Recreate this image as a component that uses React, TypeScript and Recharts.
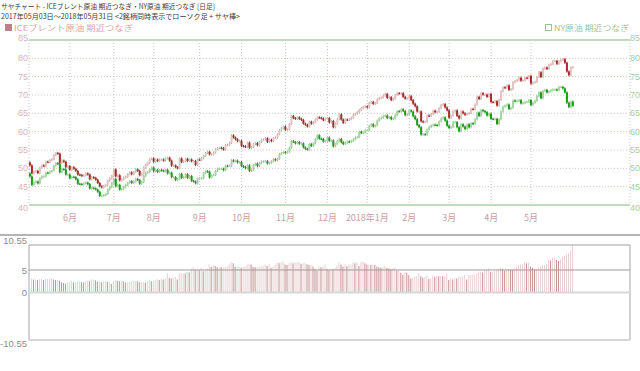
import React from "react";
import { ComposedChart, Bar, XAxis, YAxis, CartesianGrid, ReferenceLine, Cell } from "recharts";

// month ticks: index of the first trading day of each month
const monthLabels = ["6月", "7月", "8月", "9月", "10月", "11月", "12月", "2018年1月", "2月", "3月", "4月", "5月"];
const monthStarts = [20, 42, 62, 85, 106, 128, 149, 169, 190, 210, 231, 251];

const priceTicks = [40, 45, 50, 55, 60, 65, 70, 75, 80, 85];
const spreadTicks = [-10.55, 0, 5, 10.55];

const brentFirstOpen = 51.6;
const wtiFirstOpen = 48.6;

// ICEブレント原油 期近つなぎ, daily close 2017/05/03 - 2018/05/31
const brentClose = [
  // 2017-05
  50.8, 48.6, 49.1, 49.3, 48.7, 50.2, 50.8, 50.6, 51.8, 51.7, 52.2, 52.5, 53.6, 54.2, 54.0, 51.5, 52.1, 51.8, 50.3, 50.6,
  // 06
  49.6, 50.3, 49.9, 49.3, 48.3, 48.2, 47.9, 48.1, 48.6, 48.3, 47.0, 47.6, 47.4, 46.9, 46.0, 45.1, 44.8, 45.2, 45.5, 46.6, 47.3, 47.9,
  // 07
  49.7, 47.8, 48.1, 46.7, 47.0, 47.5, 47.7, 48.4, 48.9, 48.4, 49.0, 49.7, 49.3, 48.1, 48.6, 50.2, 51.0, 51.5, 52.5, 52.7,
  // 08
  51.8, 52.4, 52.0, 52.4, 52.4, 52.1, 52.7, 52.9, 52.1, 50.7, 50.8, 50.3, 50.0, 52.7, 51.7, 51.9, 52.6, 52.0, 52.4, 51.9, 52.0, 50.9, 52.4,
  // 09
  52.3, 52.8, 53.4, 54.2, 54.5, 53.8, 53.8, 54.3, 55.2, 55.5, 55.6, 55.5, 55.1, 56.3, 56.4, 56.9, 59.0, 58.4, 57.9, 57.4, 57.5,
  // 10
  56.1, 56.0, 55.8, 57.0, 55.6, 55.8, 56.6, 56.9, 56.3, 57.2, 57.8, 57.9, 58.2, 57.2, 57.8, 57.4, 58.3, 58.4, 59.3, 60.4, 60.9, 61.4,
  // 11
  60.5, 60.6, 62.1, 64.3, 63.7, 63.5, 63.9, 63.5, 63.2, 62.2, 61.9, 61.4, 62.7, 62.2, 62.6, 63.3, 63.9, 63.8, 63.6, 63.1, 63.6,
  // 12
  63.7, 62.5, 62.9, 61.2, 62.2, 63.4, 64.7, 63.3, 62.4, 63.3, 63.2, 63.4, 63.8, 64.6, 64.9, 65.3, 65.9, 66.4, 66.7, 66.9,
  // 2018-01
  66.6, 67.8, 68.1, 67.6, 67.8, 68.8, 69.2, 69.3, 69.9, 70.3, 69.2, 69.4, 68.6, 69.0, 70.0, 70.5, 70.4, 70.5, 69.5, 69.0, 69.1,
  // 02
  69.7, 68.6, 67.6, 66.9, 65.5, 65.5, 62.8, 62.6, 62.7, 64.4, 64.3, 64.8, 65.7, 65.3, 65.4, 66.4, 67.3, 67.5, 66.6, 65.8,
  // 03
  63.8, 64.4, 65.5, 65.8, 64.3, 63.6, 65.5, 65.0, 64.6, 64.9, 65.1, 66.2, 66.1, 67.4, 69.5, 68.9, 70.5, 70.1, 70.1, 69.5, 70.3,
  // 04
  68.1, 68.0, 68.3, 67.1, 68.7, 71.0, 72.1, 72.0, 72.6, 71.4, 71.6, 73.5, 73.8, 74.1, 74.7, 73.9, 74.0, 74.7, 74.6, 75.2,
  // 05
  73.1, 73.4, 73.6, 74.9, 76.2, 74.9, 77.2, 77.5, 77.1, 78.2, 78.4, 79.3, 79.3, 78.5, 79.2, 79.6, 79.8, 78.8, 76.4, 75.4, 77.5, 77.6,
];

// NY原油 期近つなぎ, daily close
const wtiClose = [
  // 2017-05
  47.8, 45.5, 46.2, 46.4, 45.9, 47.3, 47.8, 47.8, 48.8, 48.7, 49.1, 49.4, 50.7, 51.4, 51.2, 48.9, 49.8, 49.7, 48.3, 48.3,
  // 06
  47.3, 47.7, 47.6, 47.0, 45.8, 45.7, 45.6, 45.9, 46.1, 45.7, 44.5, 44.7, 44.5, 44.2, 43.6, 42.5, 42.5, 42.7, 43.0, 44.2, 44.9, 46.0,
  // 07
  47.1, 45.1, 45.5, 44.2, 44.4, 45.0, 45.5, 46.1, 46.5, 46.0, 46.4, 47.1, 46.8, 45.8, 46.3, 47.9, 48.8, 49.0, 49.7, 50.2,
  // 08
  49.2, 49.6, 49.0, 49.6, 49.4, 49.2, 49.6, 48.6, 48.8, 47.6, 47.6, 46.8, 47.1, 48.5, 47.4, 47.6, 48.4, 47.4, 47.9, 46.6, 46.4, 45.9, 47.2,
  // 09
  47.3, 47.3, 48.7, 49.2, 49.1, 47.5, 48.1, 48.2, 49.3, 49.9, 49.9, 49.9, 49.5, 50.7, 50.6, 50.7, 52.2, 51.9, 52.1, 51.6, 51.7,
  // 10
  50.6, 50.4, 50.0, 50.8, 49.3, 49.6, 50.9, 51.3, 50.6, 51.5, 51.9, 51.9, 52.0, 51.3, 51.5, 51.9, 52.5, 52.2, 52.6, 53.9, 54.2, 54.4,
  // 11
  54.3, 54.5, 55.6, 57.4, 57.2, 56.8, 57.2, 56.7, 56.8, 55.7, 55.3, 55.1, 56.6, 56.1, 56.8, 58.0, 59.0, 58.1, 58.0, 57.3, 57.4,
  // 12
  58.4, 57.5, 57.6, 56.0, 56.7, 57.4, 58.0, 57.1, 56.6, 57.0, 57.3, 57.2, 57.5, 57.9, 58.4, 58.5, 60.0, 59.6, 59.8, 60.4,
  // 2018-01
  60.4, 61.6, 62.0, 61.4, 61.7, 63.0, 63.6, 63.8, 64.3, 64.4, 63.7, 64.0, 63.4, 63.6, 64.5, 65.6, 65.5, 66.1, 65.6, 64.5, 64.7,
  // 02
  65.8, 65.5, 64.2, 63.4, 61.8, 61.2, 59.2, 59.3, 59.2, 60.6, 61.3, 61.7, 61.9, 61.8, 61.7, 62.8, 63.6, 63.9, 63.0, 61.6,
  // 03
  61.0, 61.3, 62.6, 62.6, 61.2, 60.1, 62.0, 61.4, 60.7, 62.0, 61.2, 62.3, 62.1, 63.4, 65.2, 64.3, 65.9, 65.6, 65.3, 64.4, 64.9,
  // 04
  63.5, 63.4, 63.5, 62.1, 63.4, 65.5, 66.8, 67.1, 67.4, 66.2, 66.5, 68.5, 68.3, 68.4, 68.6, 67.7, 67.8, 68.1, 68.1, 68.6,
  // 05
  67.3, 67.9, 68.4, 69.7, 70.7, 69.1, 71.1, 71.4, 70.7, 71.0, 71.3, 71.5, 71.5, 71.3, 72.2, 72.2, 71.8, 70.7, 67.9, 66.7, 68.2, 67.05,
];

const WICK = 0.3;

const rows = brentClose.map((bc, i) => {
  const bo = i === 0 ? brentFirstOpen : brentClose[i - 1];
  const wc = wtiClose[i];
  const wo = i === 0 ? wtiFirstOpen : wtiClose[i - 1];
  const bh = Math.max(bo, bc) + WICK;
  const bl = Math.min(bo, bc) - WICK;
  const wh = Math.max(wo, wc) + WICK;
  const wl = Math.min(wo, wc) - WICK;
  const spread = +(bc - wc).toFixed(2);
  const prev = i === 0 ? spread : +(brentClose[i - 1] - wtiClose[i - 1]).toFixed(2);
  return { i, bo, bc, bh, bl, wo, wc, wh, wl, range: [Math.min(bl, wl), Math.max(bh, wh)], spread, rising: spread >= prev };
});

const JP = "'Noto Sans CJK JP', sans-serif";
const NUM = "'Liberation Sans', Arial, sans-serif";

const CandlePair = (props: any) => {
  const { x, y, width, height, payload } = props;
  if (!payload) return null;
  const [lo, hi] = payload.range;
  const top = Math.min(y, y + height);
  const h = Math.abs(height);
  const ppu = hi > lo ? h / (hi - lo) : 0;
  const toY = (v: number) => top + (hi - v) * ppu;
  const cx = x + width / 2;
  const one = (o: number, c: number, hh: number, ll: number, upCol: string, downCol: string, wickUp: string) => {
    const up = c >= o;
    const col = up ? upCol : downCol;
    const by = toY(Math.max(o, c));
    const bh = Math.max(1, Math.abs(o - c) * ppu);
    return (
      <g>
        <line x1={cx} x2={cx} y1={toY(hh)} y2={toY(ll)} stroke={up ? wickUp : downCol} strokeWidth={1} />
        <rect x={cx - 1} y={by} width={2} height={bh} fill={col} />
      </g>
    );
  };
  return (
    <g>
      {one(payload.bo, payload.bc, payload.bh, payload.bl, "#e2c4c4", "#a82c2c", "#c89c9c")}
      {one(payload.wo, payload.wc, payload.wh, payload.wl, "#a8d4a4", "#1a9a1a", "#8cc48c")}
    </g>
  );
};

const PriceTick = (props: any) => {
  const { x, y, payload, side } = props;
  const v = payload.value;
  const dy = v === 85 ? -2.5 : v === 40 ? 3 : 0;
  return (
    <text x={x} y={y + dy} dy="0.35em" textAnchor={side === "left" ? "end" : "start"} fontSize={9} fontFamily={NUM} fill={side === "left" ? "#d8b4b8" : "#a8cca8"}>
      {v}
    </text>
  );
};

const SpreadTick = (props: any) => {
  const { x, y, payload } = props;
  const v = payload.value;
  const dy = v === 10.55 ? -4.5 : v === -10.55 ? 4 : v === 5 ? 1 : 0;
  return (
    <text x={x} y={y + dy} dy="0.35em" textAnchor="end" fontSize={9.5} fontFamily={NUM} fill="#8c8c8c">
      {v}
    </text>
  );
};

const monthName = (v: any) => monthLabels[monthStarts.indexOf(Number(v))] ?? "";

export default function App() {
  return (
    <div style={{ position: "absolute", left: 0, top: 0, width: 640, height: 371, background: "#fff", overflow: "hidden" }}>
      <svg width={640} height={40} style={{ position: "absolute", left: 0, top: 0 }}>
        <text x={1} y={8.5} fontSize={7} fontFamily={JP} fill="#3c3c3c" textLength={214} lengthAdjust="spacingAndGlyphs">
          サヤチャート - ICEブレント原油 期近つなぎ・NY原油 期近つなぎ [日足]
        </text>
        <text x={1} y={19} fontSize={7} fontFamily={JP} fill="#3c3c3c" textLength={239} lengthAdjust="spacingAndGlyphs">
          2017年05月03日～2018年05月31日 &lt;2銘柄同時表示でローソク足 + サヤ棒&gt;
        </text>
        <rect x={5} y={24} width={7} height={7} fill="#b88484" />
        <text x={14} y={30.5} fontSize={8} fontFamily={JP} fill="#d4a8a8" textLength={119} lengthAdjust="spacingAndGlyphs">
          ICEブレント原油 期近つなぎ
        </text>
        <rect x={545.5} y={24.5} width={6} height={6} fill="none" stroke="#9cc49c" strokeWidth={1} />
        <text x={629} y={30.5} fontSize={8} fontFamily={JP} fill="#9cc49c" textAnchor="end" textLength={75} lengthAdjust="spacingAndGlyphs">
          NY原油 期近つなぎ
        </text>
      </svg>

      <div style={{ position: "absolute", left: 0, top: 0 }}>
        <ComposedChart width={640} height={230} data={rows} margin={{ top: 40, right: 0, bottom: 5, left: 0 }}>
          <CartesianGrid yAxisId="left" vertical={false} stroke="#bcd0bc" strokeDasharray="1 2" />
          <CartesianGrid yAxisId="left" horizontal={false} stroke="#d8b8c0" strokeDasharray="1 2" />
          <XAxis
            dataKey="i"
            type="category"
            ticks={monthStarts}
            interval={0}
            tickFormatter={monthName}
            axisLine={false}
            tickLine={false}
            tickSize={0}
            tickMargin={10}
            height={20}
            padding={{ left: 0, right: 56 }}
            tick={{ fontSize: 9, fill: "#c8a0a4", fontFamily: JP }}
          />
          <YAxis
            yAxisId="left"
            domain={[40, 85]}
            ticks={priceTicks}
            interval={0}
            allowDataOverflow
            width={29}
            axisLine={false}
            tickLine={false}
            tickSize={0}
            tickMargin={1}
            tick={(p: any) => <PriceTick {...p} side="left" />}
          />
          <YAxis
            yAxisId="right"
            orientation="right"
            domain={[40, 85]}
            ticks={priceTicks}
            interval={0}
            allowDataOverflow
            width={10}
            axisLine={false}
            tickLine={false}
            tickSize={0}
            tickMargin={0}
            tick={(p: any) => <PriceTick {...p} side="right" />}
          />
          <ReferenceLine yAxisId="left" y={85} stroke="#c2dabe" strokeWidth={2} />
          <ReferenceLine yAxisId="left" y={40} stroke="#c2dabe" strokeWidth={2} />
          <Bar yAxisId="left" dataKey="range" barSize={2} shape={(p: any) => <CandlePair {...p} />} isAnimationActive={false} />
        </ComposedChart>
      </div>

      <div style={{ position: "absolute", left: 0, top: 234, width: 640, height: 2, background: "#b4b4b4" }} />

      <div style={{ position: "absolute", left: 0, top: 230 }}>
        <ComposedChart width={640} height={126} data={rows} margin={{ top: 15, right: 10, bottom: 15, left: 0 }}>
          <CartesianGrid horizontal={false} stroke="#a4a4a4" />
          <XAxis
            dataKey="i"
            type="category"
            ticks={monthStarts}
            interval={0}
            tick={false}
            axisLine={false}
            tickLine={false}
            height={1}
            padding={{ left: 0, right: 56 }}
          />
          <YAxis
            domain={[-10.55, 10.55]}
            ticks={spreadTicks}
            interval={0}
            allowDataOverflow
            width={29}
            axisLine={false}
            tickLine={false}
            tickSize={0}
            tickMargin={2}
            tick={(p: any) => <SpreadTick {...p} />}
          />
          <ReferenceLine y={-10.55} stroke="#d8d8d8" strokeWidth={2} />
          <ReferenceLine y={0} stroke="#d8d8d8" strokeWidth={2} />
          <ReferenceLine y={5} stroke="#a89898" strokeWidth={1} />
          <ReferenceLine y={10.55} stroke="#a0a0a0" strokeWidth={1.2} />
          <Bar dataKey="spread" barSize={1} isAnimationActive={false}>
            {rows.map((r) => (
              <Cell key={r.i} fill={r.rising ? "#e6d2d2" : "#c49090"} />
            ))}
          </Bar>
        </ComposedChart>
      </div>
    </div>
  );
}
